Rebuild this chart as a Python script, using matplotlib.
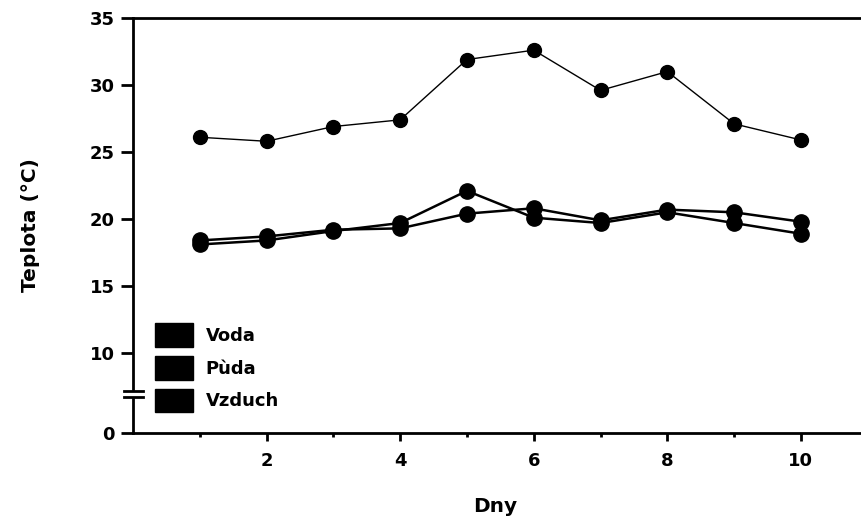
import numpy as np
import matplotlib
matplotlib.use("Agg")
import matplotlib.pyplot as plt
from matplotlib.patches import Patch

plt.rcParams['font.family'] = ['DejaVu Sans']
plt.rcParams['font.weight'] = 'bold'

# Data
dny = [1, 2, 3, 4, 5, 6, 7, 8, 9, 10]
vzduch = [26.1, 25.8, 26.9, 27.4, 31.9, 32.6, 29.6, 31.0, 27.1, 25.9]
voda = [18.1, 18.4, 19.1, 19.7, 22.1, 20.1, 19.7, 20.5, 19.7, 18.9]
puda = [18.4, 18.7, 19.2, 19.3, 20.4, 20.8, 19.9, 20.7, 20.5, 19.8]
legend_labels = ["Voda", "Pùda", "Vzduch"]
y_ticks = [0, 10, 15, 20, 25, 30, 35]
x_ticks = [2, 4, 6, 8, 10]

# y axis broken below 10: the 0-10 span is compressed
k = 0.597


def fwd(y):
    y = np.asarray(y, dtype=float)
    return np.where(y >= 10, y, 10 - (10 - y) * k)


def inv(u):
    u = np.asarray(u, dtype=float)
    return np.where(u >= 10, u, 10 - (10 - u) / k)


fig = plt.figure(figsize=(8.61, 5.22), dpi=100)
ax = fig.add_axes([133 / 861, 89 / 522, 728 / 861, 415 / 522])
ax.set_yscale('function', functions=(fwd, inv))

ax.plot(dny, vzduch, color='black', lw=1.0, marker='o', ms=10)
ax.plot(dny, voda, color='black', lw=1.8, marker='o', ms=11)
ax.plot(dny, puda, color='black', lw=1.8, marker='o', ms=11)

ax.set_xlim(0, 10.9)
ax.set_ylim(0, 35)
ax.set_yticks(y_ticks)
ax.set_yticklabels([str(t) for t in y_ticks])
ax.set_xticks(x_ticks)
ax.set_xticks([1, 3, 5, 7, 9], minor=True)
ax.yaxis.set_minor_locator(matplotlib.ticker.NullLocator())

for s in ['left', 'bottom', 'top']:
    ax.spines[s].set_linewidth(2)
ax.spines['right'].set_visible(False)

ax.tick_params(axis='y', direction='out', length=9, width=2, pad=4, labelsize=13)
ax.tick_params(axis='x', which='major', direction='out', length=6, width=2, pad=8, labelsize=13)
ax.tick_params(axis='x', which='minor', direction='out', length=3, width=2)

# axis break marks
ax.fill_between([-0.02, 0.02], 0.0875, 0.102, color='white', transform=ax.transAxes,
                clip_on=False, zorder=5)
ax.plot([-0.0124, 0.0137], [0.102, 0.102], color='black', lw=2, transform=ax.transAxes,
        clip_on=False, zorder=6)
ax.plot([-0.0124, 0.0137], [0.0875, 0.0875], color='black', lw=2, transform=ax.transAxes,
        clip_on=False, zorder=6)

ax.set_xlabel("Dny", fontsize=14.5, fontweight='bold')
ax.set_ylabel("Teplota (°C)", fontsize=14.5, fontweight='bold')
ax.xaxis.set_label_coords(0.497, -0.155)
ax.yaxis.set_label_coords(-0.128, 0.5)

handles = [Patch(facecolor='black', edgecolor='black') for _ in legend_labels]
ax.legend(handles, legend_labels, loc='upper left', bbox_to_anchor=(155 / 861, 1 - 323 / 522),
          bbox_transform=fig.transFigure, frameon=False, borderpad=0, borderaxespad=0,
          handlelength=2.1, handleheight=1.65, handletextpad=0.7, labelspacing=0.5,
          prop={'weight': 'bold', 'size': 13})

fig.savefig("out.png", dpi=100)
